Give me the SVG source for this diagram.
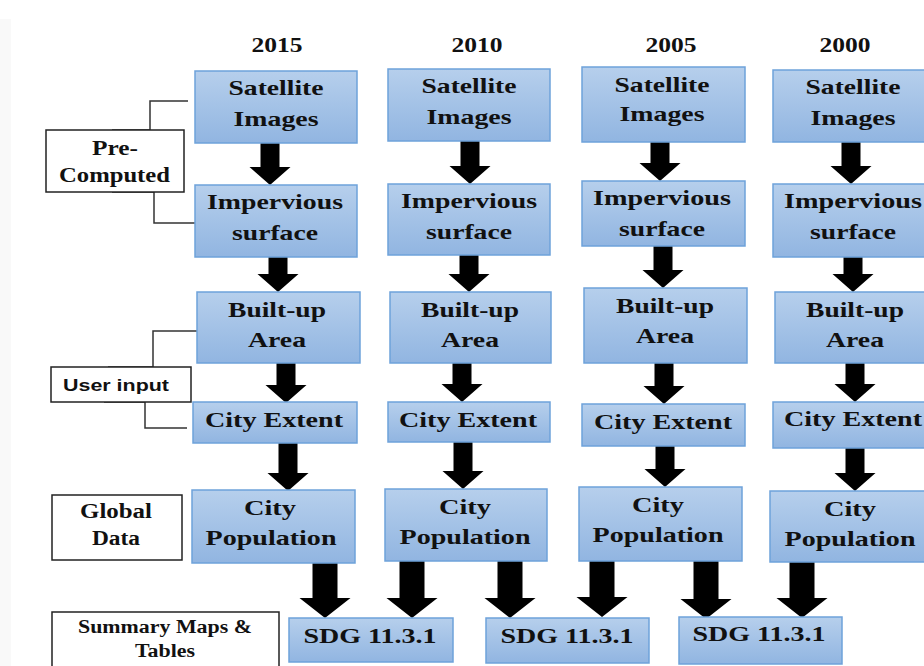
<svg xmlns="http://www.w3.org/2000/svg" width="924" height="666" viewBox="0 0 924 666">
<defs>
<linearGradient id="g" x1="0" y1="0" x2="0" y2="1">
<stop offset="0" stop-color="#b6cfec"/>
<stop offset="1" stop-color="#91b5e1"/>
</linearGradient>
<style>
.b{fill:url(#g);stroke:#6ea2da;stroke-width:1.5}
.l{fill:#fff;stroke:#222;stroke-width:1.5}
.t{font-family:"Liberation Serif","Times New Roman",serif;font-weight:bold;font-size:21px;fill:#111;text-anchor:middle}
.s{font-size:20px}
.u{font-family:"Liberation Sans",Arial,sans-serif;font-weight:bold;font-size:17px;fill:#111;text-anchor:middle}
.a{fill:#000}
.c{fill:none;stroke:#333;stroke-width:1.5}
</style>
</defs>
<rect width="924" height="666" fill="#fff"/>
<rect x="0" y="19" width="11" height="647" fill="#f9f9f9"/>

<g id="connectors">
<polygon class="a" points="260.5,143 279.5,143 279.5,167 290.5,167 270,185 249.5,167 260.5,167"/>
<polygon class="a" points="268.5,257 287.5,257 287.5,274 298.5,274 278,292 257.5,274 268.5,274"/>
<polygon class="a" points="276.5,363 295.5,363 295.5,385 306.5,385 286,403 265.5,385 276.5,385"/>
<polygon class="a" points="278.5,443 297.5,443 297.5,473 308.5,473 288,491 267.5,473 278.5,473"/>
<polygon class="a" points="460.5,141 479.5,141 479.5,166 490.5,166 470,184 449.5,166 460.5,166"/>
<polygon class="a" points="459.5,255 478.5,255 478.5,274 489.5,274 469,292 448.5,274 459.5,274"/>
<polygon class="a" points="452.5,363 471.5,363 471.5,384 482.5,384 462,402 441.5,384 452.5,384"/>
<polygon class="a" points="453.5,442 472.5,442 472.5,471 483.5,471 463,489 442.5,471 453.5,471"/>
<polygon class="a" points="650.5,142 669.5,142 669.5,163 680.5,163 660,181 639.5,163 650.5,163"/>
<polygon class="a" points="653.5,246 672.5,246 672.5,270 683.5,270 663,288 642.5,270 653.5,270"/>
<polygon class="a" points="654.5,363 673.5,363 673.5,386 684.5,386 664,404 643.5,386 654.5,386"/>
<polygon class="a" points="655.5,446 674.5,446 674.5,469 685.5,469 665,487 644.5,469 655.5,469"/>
<polygon class="a" points="841.5,142 860.5,142 860.5,166 871.5,166 851,184 830.5,166 841.5,166"/>
<polygon class="a" points="843.5,257 862.5,257 862.5,274 873.5,274 853,292 832.5,274 843.5,274"/>
<polygon class="a" points="845.5,363 864.5,363 864.5,384 875.5,384 855,402 834.5,384 845.5,384"/>
<polygon class="a" points="845.5,448 864.5,448 864.5,473 875.5,473 855,491 834.5,473 845.5,473"/>
<polygon class="a" points="312.5,563 337.5,563 337.5,598 350.5,598 325,618 299.5,598 312.5,598"/>
<polygon class="a" points="399.5,561 424.5,561 424.5,598 437.5,598 412,618 386.5,598 399.5,598"/>
<polygon class="a" points="497.5,561 522.5,561 522.5,598 535.5,598 510,618 484.5,598 497.5,598"/>
<polygon class="a" points="589.5,561 614.5,561 614.5,597 627.5,597 602,617 576.5,597 589.5,597"/>
<polygon class="a" points="693.5,561 718.5,561 718.5,599 731.5,599 706,619 680.5,599 693.5,599"/>
<polygon class="a" points="789.5,562 814.5,562 814.5,598 827.5,598 802,618 776.5,598 789.5,598"/>
<polyline class="c" points="112,130 150,130 150,101 188,101"/>
<polyline class="c" points="112,192 154,192 154,223 196,223"/>
<polyline class="c" points="108,367 153,367 153,331 198,331"/>
<polyline class="c" points="104,402 145,402 145,428 187,428"/>
</g>

<g id="years">
<text class="t s" x="277" y="52" textLength="51" lengthAdjust="spacingAndGlyphs">2015</text>
<text class="t s" x="477" y="52" textLength="51" lengthAdjust="spacingAndGlyphs">2010</text>
<text class="t s" x="671" y="52" textLength="51" lengthAdjust="spacingAndGlyphs">2005</text>
<text class="t s" x="845" y="52" textLength="51" lengthAdjust="spacingAndGlyphs">2000</text>
</g>

<g id="pre-computed">
<rect class="l" x="46" y="130" width="138" height="62"/>
<text class="t s" x="115" y="155" textLength="46" lengthAdjust="spacingAndGlyphs">Pre-</text>
<text class="t s" x="114.5" y="182" textLength="111" lengthAdjust="spacingAndGlyphs">Computed</text>
</g>
<g id="user-input">
<rect class="l" x="51" y="367" width="140" height="35"/>
<text class="u" x="116" y="391" textLength="106" lengthAdjust="spacingAndGlyphs">User input</text>
</g>
<g id="global-data">
<rect class="l" x="52" y="495" width="130" height="65"/>
<text class="t s" x="116" y="518" textLength="72" lengthAdjust="spacingAndGlyphs">Global</text>
<text class="t s" x="116" y="545" textLength="48" lengthAdjust="spacingAndGlyphs">Data</text>
</g>
<g id="summary">
<rect class="l" x="52" y="612" width="227" height="62"/>
<text class="t" style="font-size:18px" x="165" y="633" textLength="174" lengthAdjust="spacingAndGlyphs">Summary Maps &amp;</text>
<text class="t" style="font-size:18px" x="165" y="657" textLength="60" lengthAdjust="spacingAndGlyphs">Tables</text>
</g>

<!-- 2015 -->
<g id="sat-2015"><rect class="b" x="195" y="71" width="162" height="72"/>
<text class="t" x="276" y="95" textLength="95" lengthAdjust="spacingAndGlyphs">Satellite</text>
<text class="t" x="276" y="126" textLength="85" lengthAdjust="spacingAndGlyphs">Images</text></g>
<g id="imp-2015"><rect class="b" x="195" y="185" width="162" height="72"/>
<text class="t" x="275" y="209" textLength="136" lengthAdjust="spacingAndGlyphs">Impervious</text>
<text class="t" x="275" y="240" textLength="86" lengthAdjust="spacingAndGlyphs">surface</text></g>
<g id="built-2015"><rect class="b" x="197" y="292" width="163" height="71"/>
<text class="t" x="277" y="317" textLength="98" lengthAdjust="spacingAndGlyphs">Built-up</text>
<text class="t" x="277" y="347" textLength="58" lengthAdjust="spacingAndGlyphs">Area</text></g>
<g id="ext-2015"><rect class="b" x="193" y="402" width="164" height="41"/>
<text class="t" x="274" y="427" textLength="138" lengthAdjust="spacingAndGlyphs">City Extent</text></g>
<g id="pop-2015"><rect class="b" x="192" y="490" width="163" height="73"/>
<text class="t" x="270" y="515" textLength="52" lengthAdjust="spacingAndGlyphs">City</text>
<text class="t" x="271" y="545" textLength="131" lengthAdjust="spacingAndGlyphs">Population</text></g>

<!-- 2010 -->
<g id="sat-2010"><rect class="b" x="388" y="69" width="162" height="72"/>
<text class="t" x="469" y="93" textLength="95" lengthAdjust="spacingAndGlyphs">Satellite</text>
<text class="t" x="469" y="124" textLength="85" lengthAdjust="spacingAndGlyphs">Images</text></g>
<g id="imp-2010"><rect class="b" x="388" y="184" width="162" height="71"/>
<text class="t" x="469" y="208" textLength="136" lengthAdjust="spacingAndGlyphs">Impervious</text>
<text class="t" x="469" y="239" textLength="86" lengthAdjust="spacingAndGlyphs">surface</text></g>
<g id="built-2010"><rect class="b" x="390" y="292" width="161" height="71"/>
<text class="t" x="470" y="317" textLength="98" lengthAdjust="spacingAndGlyphs">Built-up</text>
<text class="t" x="470" y="347" textLength="58" lengthAdjust="spacingAndGlyphs">Area</text></g>
<g id="ext-2010"><rect class="b" x="388" y="402" width="162" height="40"/>
<text class="t" x="468" y="427" textLength="138" lengthAdjust="spacingAndGlyphs">City Extent</text></g>
<g id="pop-2010"><rect class="b" x="385" y="489" width="162" height="72"/>
<text class="t" x="465" y="514" textLength="52" lengthAdjust="spacingAndGlyphs">City</text>
<text class="t" x="465" y="544" textLength="131" lengthAdjust="spacingAndGlyphs">Population</text></g>

<!-- 2005 -->
<g id="sat-2005"><rect class="b" x="582" y="67" width="163" height="75"/>
<text class="t" x="662" y="92" textLength="95" lengthAdjust="spacingAndGlyphs">Satellite</text>
<text class="t" x="662" y="121" textLength="85" lengthAdjust="spacingAndGlyphs">Images</text></g>
<g id="imp-2005"><rect class="b" x="582" y="181" width="163" height="65"/>
<text class="t" x="662" y="205" textLength="138" lengthAdjust="spacingAndGlyphs">Impervious</text>
<text class="t" x="662" y="236" textLength="86" lengthAdjust="spacingAndGlyphs">surface</text></g>
<g id="built-2005"><rect class="b" x="584" y="288" width="163" height="75"/>
<text class="t" x="665" y="313" textLength="98" lengthAdjust="spacingAndGlyphs">Built-up</text>
<text class="t" x="665" y="343" textLength="58" lengthAdjust="spacingAndGlyphs">Area</text></g>
<g id="ext-2005"><rect class="b" x="582" y="404" width="163" height="42"/>
<text class="t" x="663" y="429" textLength="138" lengthAdjust="spacingAndGlyphs">City Extent</text></g>
<g id="pop-2005"><rect class="b" x="579" y="487" width="163" height="74"/>
<text class="t" x="658" y="512" textLength="52" lengthAdjust="spacingAndGlyphs">City</text>
<text class="t" x="658" y="542" textLength="131" lengthAdjust="spacingAndGlyphs">Population</text></g>

<!-- 2000 -->
<g id="sat-2000"><rect class="b" x="773" y="70" width="162" height="72"/>
<text class="t" x="853" y="94" textLength="95" lengthAdjust="spacingAndGlyphs">Satellite</text>
<text class="t" x="853" y="125" textLength="85" lengthAdjust="spacingAndGlyphs">Images</text></g>
<g id="imp-2000"><rect class="b" x="773" y="184" width="162" height="73"/>
<text class="t" x="853" y="208" textLength="138" lengthAdjust="spacingAndGlyphs">Impervious</text>
<text class="t" x="853" y="239" textLength="86" lengthAdjust="spacingAndGlyphs">surface</text></g>
<g id="built-2000"><rect class="b" x="775" y="292" width="162" height="71"/>
<text class="t" x="855" y="317" textLength="98" lengthAdjust="spacingAndGlyphs">Built-up</text>
<text class="t" x="855" y="347" textLength="58" lengthAdjust="spacingAndGlyphs">Area</text></g>
<g id="ext-2000"><rect class="b" x="773" y="402" width="162" height="46"/>
<text class="t" x="853" y="426" textLength="138" lengthAdjust="spacingAndGlyphs">City Extent</text></g>
<g id="pop-2000"><rect class="b" x="770" y="491" width="163" height="71"/>
<text class="t" x="850" y="516" textLength="52" lengthAdjust="spacingAndGlyphs">City</text>
<text class="t" x="850" y="546" textLength="131" lengthAdjust="spacingAndGlyphs">Population</text></g>

<!-- SDG -->
<g id="sdg-1"><rect class="b" x="289" y="618" width="164" height="44"/>
<text class="t" x="370" y="643" textLength="133" lengthAdjust="spacingAndGlyphs">SDG 11.3.1</text></g>
<g id="sdg-2"><rect class="b" x="486" y="618" width="163" height="45"/>
<text class="t" x="567" y="643" textLength="133" lengthAdjust="spacingAndGlyphs">SDG 11.3.1</text></g>
<g id="sdg-3"><rect class="b" x="679" y="617" width="163" height="47"/>
<text class="t" x="759" y="641" textLength="133" lengthAdjust="spacingAndGlyphs">SDG 11.3.1</text></g>
</svg>
